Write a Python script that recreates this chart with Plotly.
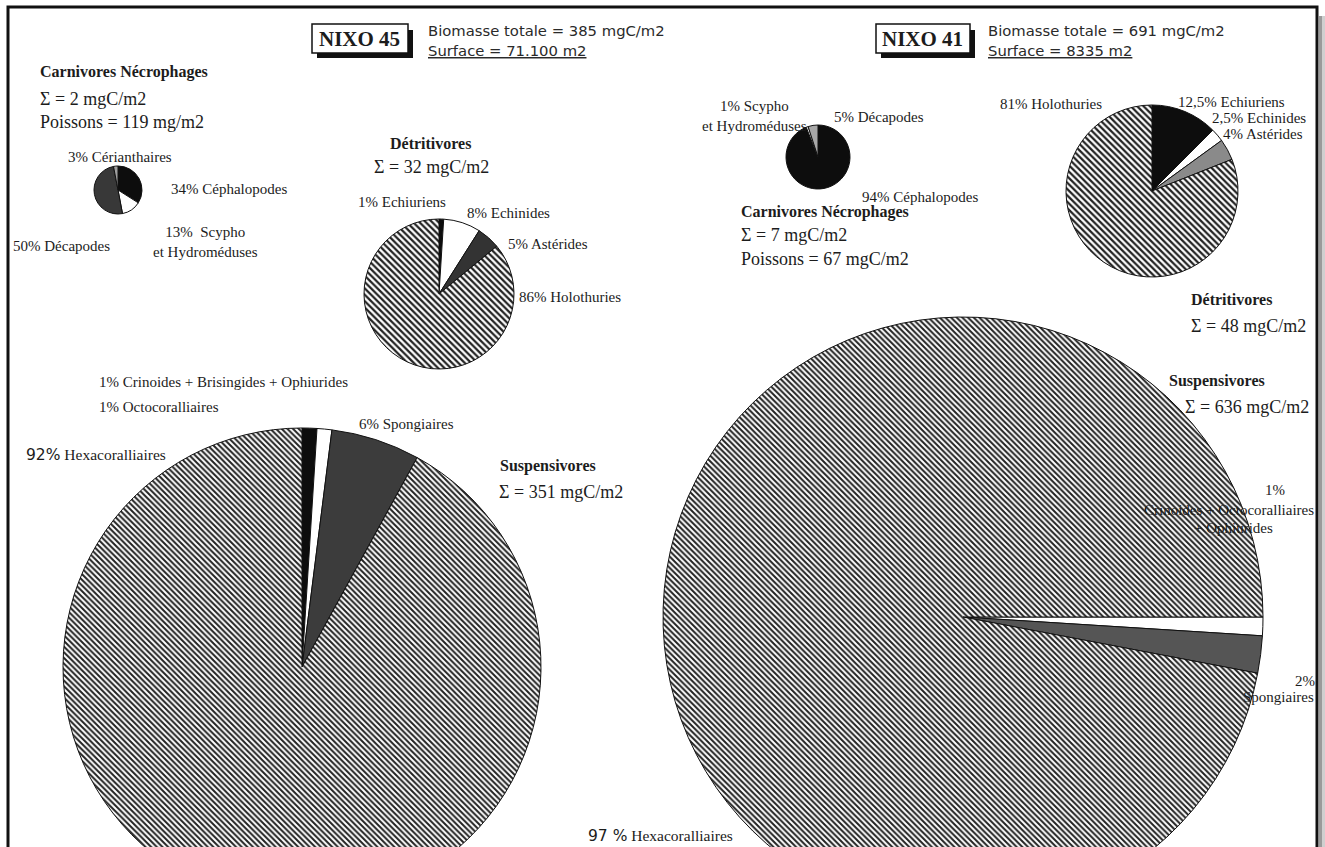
import plotly.graph_objects as go

W, H = 1325, 930

# ---------------- data ----------------
# NIXO 45
n45_carn_labels = ["Céphalopodes", "Scypho et Hydroméduses", "Décapodes", "Cérianthaires"]
n45_carn_values = [34, 13, 50, 3]
n45_det_labels = ["Echiuriens", "Echinides", "Astérides", "Holothuries"]
n45_det_values = [1, 8, 5, 86]
n45_susp_labels = ["Crinoides + Brisingides + Ophiurides", "Octocoralliaires", "Spongiaires", "Hexacoralliaires"]
n45_susp_values = [1, 1, 6, 92]
# NIXO 41
n41_carn_labels = ["Céphalopodes", "Scypho et Hydroméduses", "Décapodes"]
n41_carn_values = [94, 1, 5]
n41_det_labels = ["Echiuriens", "Echinides", "Astérides", "Holothuries"]
n41_det_values = [12.5, 2.5, 4, 81]
n41_susp_labels = ["Crinoides + Octocoralliaires + Ophiurides", "Spongiaires", "Hexacoralliaires"]
n41_susp_values = [1, 2, 97]

stations = ["NIXO 45", "NIXO 41"]
biomasse_totale = [385, 691]
surface = ["71.100", "8335"]
carn_total = [2, 7]
det_total = [32, 48]
susp_total = [351, 636]
poissons = ["119 mg/m2", "67 mgC/m2"]

SERIF = "Liberation Serif"
SANS = "DejaVu Sans"
INK = "#1c1c1c"
LBL = 15


def pct(v):
    return f"{v:g}".replace(".", ",")


def pie(labels, values, cx, cy, r, colors, hatched, size, rotation=0):
    return go.Pie(
        labels=labels, values=values, sort=False, direction="clockwise", rotation=rotation,
        domain=dict(x=[(cx - r) / W, (cx + r) / W], y=[1 - (cy + r) / H, 1 - (cy - r) / H]),
        textinfo="none", hoverinfo="label+percent", showlegend=False,
        marker=dict(colors=colors, line=dict(color="#111", width=1),
                    pattern=dict(shape=["\\" if h else "" for h in hatched], fgcolor="#222",
                                 bgcolor="white", size=size, solidity=0.5, fillmode="replace")))


fig = go.Figure()
fig.add_trace(pie(n45_carn_labels, n45_carn_values, 118, 190, 24,
                  ["#0d0d0d", "#ffffff", "#383838", "#a0a0a0"], [0, 0, 0, 0], 4))
fig.add_trace(pie(n45_det_labels, n45_det_values, 439, 294, 75,
                  ["#0d0d0d", "#ffffff", "#333333", "#ffffff"], [0, 0, 0, 1], 4.5))
fig.add_trace(pie(n45_susp_labels, n45_susp_values, 302, 667, 239,
                  ["#0d0d0d", "#ffffff", "#3c3c3c", "#ffffff"], [0, 0, 0, 1], 4))
fig.add_trace(pie(n41_carn_labels, n41_carn_values, 818, 157, 32,
                  ["#0d0d0d", "#ffffff", "#a8a8a8"], [0, 0, 0], 4))
fig.add_trace(pie(n41_det_labels, n41_det_values, 1152, 191, 86,
                  ["#0d0d0d", "#ffffff", "#8a8a8a", "#ffffff"], [0, 0, 0, 1], 4.5))
fig.add_trace(pie(n41_susp_labels, n41_susp_values, 963, 617, 300,
                  ["#ffffff", "#555555", "#ffffff"], [0, 0, 1], 4, rotation=90))


def txt(text, x, y, size=LBL, family=SERIF, bold=False, xanchor="left", align="left", color=INK):
    if bold:
        text = f"<b>{text}</b>"
    return dict(text=text, x=x / W, y=1 - y / H, xref="paper", yref="paper",
                xanchor=xanchor, yanchor="middle", showarrow=False, align=align,
                font=dict(family=family, size=size, color=color))


def sans(s):
    return f"<span style='font-family:{SANS}'>{s}</span>"


ann = []
# headers
ann += [
    txt(f"<b>{stations[0]}</b>", 359, 39, 21, xanchor="center"),
    txt(f"Biomasse totale = {biomasse_totale[0]} mgC/m2", 426, 31, 14.8, SANS, color="#2a2a2a"),
    txt(f"<u>Surface = {surface[0]} m2</u>", 426, 51, 14.8, SANS, color="#2a2a2a"),
    txt(f"<b>{stations[1]}</b>", 922, 39, 21, xanchor="center"),
    txt(f"Biomasse totale = {biomasse_totale[1]} mgC/m2", 986, 31, 14.8, SANS, color="#2a2a2a"),
    txt(f"<u>Surface = {surface[1]} m2</u>", 986, 51, 14.8, SANS, color="#2a2a2a"),
]

# NIXO 45 carnivores
v = n45_carn_values
ann += [
    txt("Carnivores Nécrophages", 38, 72, 16, bold=True),
    txt(f"Σ = {carn_total[0]} mgC/m2", 38, 99, 18),
    txt(f"Poissons = {poissons[0]}", 38, 122, 18),
    txt(f"{pct(v[3])}% {n45_carn_labels[3]}", 66, 157),
    txt(f"{pct(v[0])}% {n45_carn_labels[0]}", 169, 189),
    txt(f"{pct(v[1])}%  Scypho<br>et Hydroméduses", 205, 242, xanchor="center", align="center"),
    txt(f"{pct(v[2])}% {n45_carn_labels[2]}", 11, 246),
]
# NIXO 45 detritivores
v = n45_det_values
ann += [
    txt("Détritivores", 430, 143, 16, bold=True, xanchor="center"),
    txt(f"Σ = {det_total[0]} mgC/m2", 431, 167, 18, xanchor="center"),
    txt(f"{pct(v[0])}% {n45_det_labels[0]}", 356, 202),
    txt(f"{pct(v[1])}% {n45_det_labels[1]}", 465, 213),
    txt(f"{pct(v[2])}% {n45_det_labels[2]}", 506, 244),
    txt(f"{pct(v[3])}% {n45_det_labels[3]}", 517, 297),
]
# NIXO 45 suspensivores
v = n45_susp_values
ann += [
    txt(f"{pct(v[0])}% {n45_susp_labels[0]}", 97, 382),
    txt(f"{pct(v[1])}% {n45_susp_labels[1]}", 97, 407),
    txt(f"{pct(v[2])}% {n45_susp_labels[2]}", 357, 424),
    txt(sans(f"{pct(v[3])}%") + f" {n45_susp_labels[3]}", 24, 455, 15.5),
    txt("Suspensivores", 498, 466, 16, bold=True),
    txt(f"Σ = {susp_total[0]} mgC/m2", 497, 492, 18),
]
# NIXO 41 carnivores
v = n41_carn_values
ann += [
    txt(f"{pct(v[1])}% Scypho<br>et Hydroméduses", 754, 116, xanchor="center", align="center"),
    txt(f"{pct(v[2])}% {n41_carn_labels[2]}", 832, 117),
    txt(f"{pct(v[0])}% {n41_carn_labels[0]}", 860, 197),
    txt("Carnivores Nécrophages", 739, 212, 16, bold=True),
    txt(f"Σ = {carn_total[1]} mgC/m2", 739, 235, 18),
    txt(f"Poissons = {poissons[1]}", 739, 259, 18),
]
# NIXO 41 detritivores
v = n41_det_values
ann += [
    txt(f"{pct(v[3])}% {n41_det_labels[3]}", 998, 104),
    txt(f"{pct(v[0])}% {n41_det_labels[0]}", 1176, 102),
    txt(f"{pct(v[1])}% {n41_det_labels[1]}", 1210, 118),
    txt(f"{pct(v[2])}% {n41_det_labels[2]}", 1221, 134),
    txt("Détritivores", 1189, 300, 16, bold=True),
    txt(f"Σ = {det_total[1]} mgC/m2", 1189, 326, 18),
]
# NIXO 41 suspensivores
v = n41_susp_values
ann += [
    txt("Suspensivores", 1167, 381, 16, bold=True),
    txt(f"Σ = {susp_total[1]} mgC/m2", 1183, 407, 18),
    txt(f"{pct(v[0])}%", 1275, 490, xanchor="center"),
    txt("Crinoides + Octocoralliaires", 1229, 510, xanchor="center"),
    txt("+ Ophiurides", 1233, 528, xanchor="center"),
    txt(f"{pct(v[1])}%", 1305, 681, xanchor="center"),
    txt(n41_susp_labels[1], 1278, 697, xanchor="center"),
    txt(sans(f"{pct(v[2])} %") + f" {n41_susp_labels[2]}", 586, 836, 15.5),
]


def rect(x0, y0, x1, y1, fill=None, line_color=None, lw=0):
    return dict(type="rect", xref="paper", yref="paper",
                x0=x0 / W, x1=x1 / W, y0=1 - y1 / H, y1=1 - y0 / H,
                fillcolor=fill if fill else "rgba(0,0,0,0)",
                line=dict(color=line_color if line_color else "rgba(0,0,0,0)", width=lw))


shapes = [
    # page frame + shadow
    rect(1319, 16, 1322, H + 10, "#9a9a9a"),
    rect(1322, 16, 1325, H + 10, "#cfcfcf"),
    rect(8, 7, 1317, H + 10, None, "#111", 3),
    # NIXO 45 box
    rect(317, 30, 413, 58, "#111"),
    rect(312, 24, 408, 53, "white", "#111", 1.5),
    # NIXO 41 box
    rect(881, 30, 975, 58, "#111"),
    rect(876, 24, 970, 53, "white", "#111", 1.5),
]

fig.update_layout(
    width=W, height=H, autosize=False,
    margin=dict(l=0, r=0, t=0, b=0, pad=0),
    paper_bgcolor="white", plot_bgcolor="white",
    annotations=ann, shapes=shapes,
)

fig.write_html(
    "out.html",
    config={"displayModeBar": False},
    post_script="document.body.style.margin='0';document.body.style.overflow='hidden';"
                "document.documentElement.style.overflow='hidden';",
)
